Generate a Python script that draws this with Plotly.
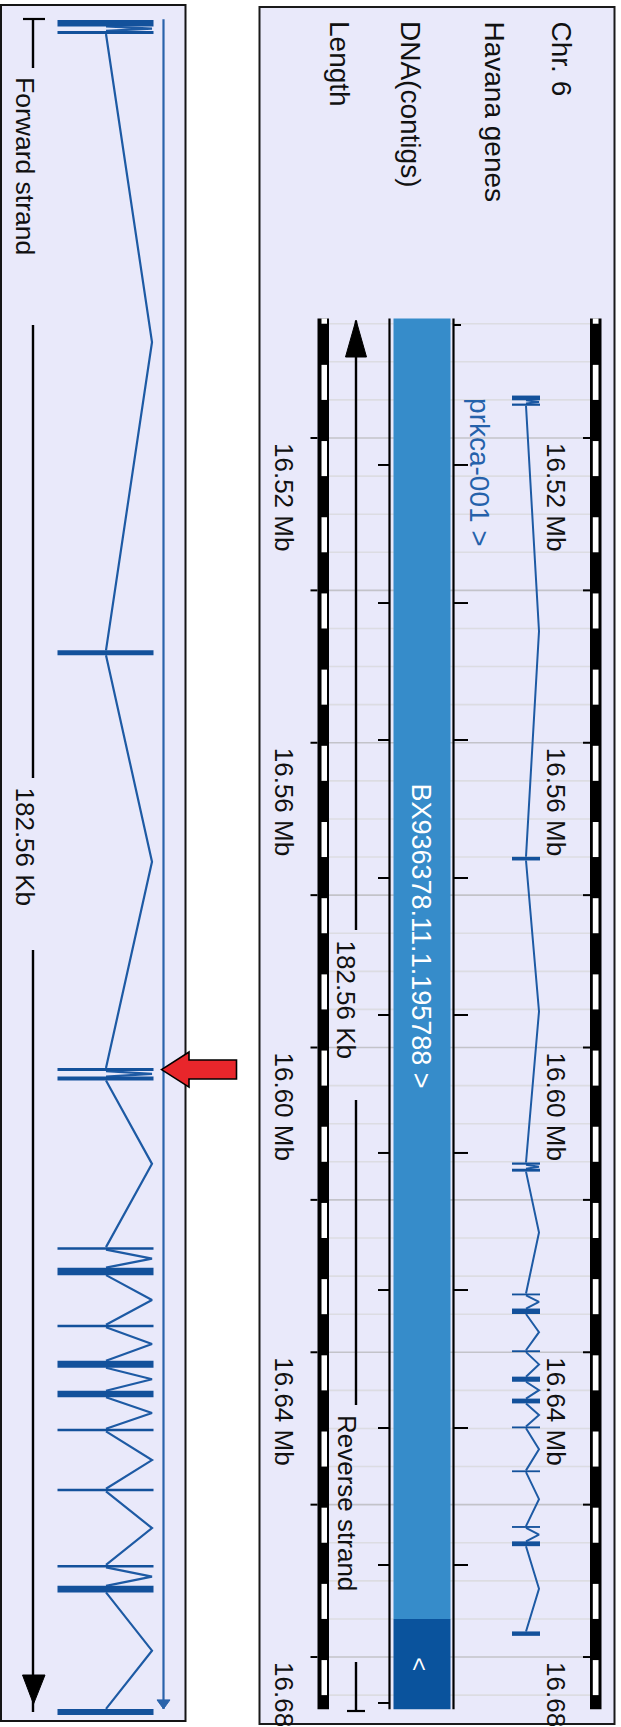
import math
import plotly.graph_objects as go

W, H = 621, 1727
FONT = "Liberation Sans, Arial, Helvetica, sans-serif"

# ---------------- data: human chromosome 6, positions in Mb ----------------
track_names = ["Chr. 6", "Havana genes", "DNA(contigs)", "Length"]

region_start_mb = 16.5043
region_length_kb = 182.56

# Havana transcript prkca-001 (forward strand), exon boundaries
transcript_name = "prkca-001 >"
exon_start_mb = [16.51443, 16.51548, 16.57497, 16.61509, 16.61591, 16.63229, 16.63426,
                 16.63974, 16.64320, 16.64608, 16.64974, 16.65550, 16.66281, 16.66482, 16.67664]
exon_end_mb = [16.51505, 16.51577, 16.57545, 16.61538, 16.61629, 16.63253, 16.63498,
               16.63998, 16.64387, 16.64671, 16.64998, 16.65574, 16.66305, 16.66545, 16.67722]

# clone contigs in view
contig_start_mb = [16.5043, 16.67501]
contig_names = ["BX936378.11.1.195788 >", "<"]
contig_tick_mb = [16.50517, 16.52354, 16.54166, 16.55964, 16.57775, 16.59573,
                  16.61384, 16.63183, 16.64994, 16.66792, 16.68603]

# ruler labels
ruler_label_mb = [16.52, 16.56, 16.60, 16.64, 16.68]
ruler_labels = ["16.52 Mb", "16.56 Mb", "16.60 Mb", "16.64 Mb", "16.68 Mb"]

length_label = "182.56 Kb"
strand_labels = ["Forward strand", "Reverse strand"]

region_end_mb = region_start_mb + region_length_kb / 1000.0

# ---------------- layout constants ----------------
BG = "#e9e9fa"
GENE = "#13519b"
GENE_LINE = "#1d5aa4"
STRAND = "#2a63ab"
CONTIG_1 = "#368cca"
CONTIG_2 = "#0a539d"
GRID_MINOR = "#dcdce2"
GRID_MAJOR = "#c3c3c9"

OVERVIEW_Y_PX = (7, 1724)       # right panel, top/bottom edge
DETAIL_Y_PX = (5, 1721)         # left panel, top/bottom edge
OVERVIEW_VIEW_MB = (16.46343, 16.68879)   # Mb at top / bottom edge of the right panel
DETAIL_VIEW_MB = (16.51318, 16.67809)     # Mb at top / bottom edge of the left panel
CONTIG_LABEL_MB = 16.58536


def px(x):
    return x / W


def py(y):
    return 1 - y / H


shapes = []
annotations = []
traces = []


def line(x0, y0, x1, y1, xref="paper", yref="paper", color="#000", width=2, layer="above"):
    shapes.append(dict(type="line", xref=xref, yref=yref, x0=x0, y0=y0, x1=x1, y1=y1,
                       line=dict(color=color, width=width), layer=layer))


def rect(x0, x1, y0, y1, xref="x", yref="y", fill="#000", lc=None, lw=0, layer="below"):
    shapes.append(dict(type="rect", xref=xref, yref=yref, x0=x0, x1=x1, y0=y0, y1=y1,
                       fillcolor=fill, line=dict(color=lc or fill, width=lw), layer=layer))


def ptext(s, x, y_px, size=26, color="#111"):
    annotations.append(dict(text=s, x=x, y=py(y_px), xref="x", yref="paper", textangle=90,
                            showarrow=False, xanchor="center", yanchor="top",
                            font=dict(family=FONT, size=size, color=color)))


def dtext(s, x, y, yref, size=26, color="#111", yanchor="top", yshift=0):
    annotations.append(dict(text=s, x=x, y=y, xref="x", yref=yref, textangle=90,
                            showarrow=False, xanchor="center", yanchor=yanchor, yshift=yshift,
                            font=dict(family=FONT, size=size, color=color)))


# ---------------- panel frames ----------------
rect(px(1), px(185.5), py(DETAIL_Y_PX[1]), py(DETAIL_Y_PX[0]), xref="paper", yref="paper",
     fill=BG, lc="#151515", lw=2)
rect(px(259.5), px(614.5), py(OVERVIEW_Y_PX[1]), py(OVERVIEW_Y_PX[0]), xref="paper", yref="paper",
     fill=BG, lc="#1a1a1a", lw=2)

# ---------------- right panel: grid lines every 5 kb ----------------
k0 = math.ceil(region_start_mb * 1000 / 5)
k1 = math.floor(region_end_mb * 1000 / 5)
for k in range(k0, k1 + 1):
    kb = k * 5
    pos = kb / 1000
    major = kb % 20 == 0
    line(329, pos, 590, pos, xref="x", yref="y", color=GRID_MAJOR if major else GRID_MINOR,
         width=1.6, layer="below")

# ---------------- right panel: scale bars ----------------
for bx0, bx1, wx0, wx1, tx0, tx1 in [(317.5, 329, 321.5, 327, 310.5, 317.5),
                                     (590, 601.5, 592.8, 598.5, 583, 590)]:
    rect(bx0, bx1, region_start_mb, region_end_mb, fill="#000")
    for k in range(math.floor(region_start_mb * 100), math.ceil(region_end_mb * 100) + 1):
        s = max(k / 100, region_start_mb)
        e = min(k / 100 + 0.005, region_end_mb)
        if e > s:
            rect(wx0, wx1, s + (0.0004 if s > region_start_mb else 0), e, fill="#ffffff")
    for k in range(math.ceil(region_start_mb * 50), math.floor(region_end_mb * 50) + 1):
        t = k / 50
        line(tx0, t, tx1, t, xref="x", yref="y", color="#000", width=2)

for t, lab in zip(ruler_label_mb, ruler_labels):
    dtext(lab, 556, t, "y", size=26, yshift=-3)
    dtext(lab, 284, t, "y", size=26, yshift=-3)

# ---------------- right panel: contigs ----------------
contig_bounds = contig_start_mb + [region_end_mb]
for i, name in enumerate(contig_names):
    rect(393.5, 450.5, contig_bounds[i], contig_bounds[i + 1],
         fill=CONTIG_1 if i == 0 else CONTIG_2)
line(389.5, region_start_mb, 389.5, region_end_mb, xref="x", yref="y", width=2.2)
line(453.5, region_start_mb, 453.5, region_end_mb, xref="x", yref="y", width=2.2)
for i, t in enumerate(contig_tick_mb):
    if i > 0:
        line(378, t, 389.5, t, xref="x", yref="y", width=2)
    if i < len(contig_tick_mb) - 1:
        line(453.5, t, 468 if i > 0 else 461, t, xref="x", yref="y", width=2)
dtext(contig_names[0], 421.5, CONTIG_LABEL_MB, "y", size=27, color="#ffffff", yanchor="middle")
dtext(contig_names[1], 420, (contig_start_mb[1] + region_end_mb) / 2, "y", size=24,
      color="#ffffff", yanchor="middle")

# ---------------- transcript drawing (both panels) ----------------
def intron_path(cx, peak):
    xs, ys = [], []
    for i in range(len(exon_start_mb) - 1):
        a, b = exon_end_mb[i], exon_start_mb[i + 1]
        xs += [cx, peak, cx, None]
        ys += [a, (a + b) / 2, b, None]
    return xs, ys


for axis, cx, peak, ex0, ex1, lw in [("y", 526, 539, 512, 540, 2.0),
                                     ("y2", 106, 152, 57.5, 153.5, 2.2)]:
    xs, ys = intron_path(cx, peak)
    traces.append(go.Scatter(x=xs, y=ys, xaxis="x", yaxis=axis, mode="lines",
                             line=dict(color=GENE_LINE, width=lw), hoverinfo="skip",
                             showlegend=False))
    for s, e in zip(exon_start_mb, exon_end_mb):
        rect(ex0, ex1, s, e, yref=axis, fill=GENE, layer="above")

dtext(transcript_name, 480, exon_start_mb[0], "y", size=28, color="#2561aa")

# strand direction line of the zoomed transcript
traces.append(go.Scatter(x=[163.5, 163.5], y=[exon_start_mb[0] - 0.00008, exon_start_mb[-1]],
                         xaxis="x", yaxis="y2", mode="lines",
                         line=dict(color=STRAND, width=2.2), hoverinfo="skip", showlegend=False))
shapes.append(dict(type="path", xref="x", yref="y2", ysizemode="pixel",
                   yanchor=exon_start_mb[-1], path="M 157,9 L 170,9 L 163.5,0 Z",
                   fillcolor=STRAND, line=dict(color=STRAND, width=1), layer="above"))

# pointer to the first exon pair of the zoomed view
exon_mid = (exon_start_mb[3] + exon_end_mb[3]) / 2
shapes.append(dict(type="path", xref="x", yref="y2", ysizemode="pixel", yanchor=exon_mid,
                   path="M 161.5,0 L 189,17.5 L 189,9.5 L 236.5,9.5 L 236.5,-9.5 "
                        "L 189,-9.5 L 189,-17.5 Z",
                   fillcolor="#e8262b", line=dict(color="#000", width=1.6), layer="above"))

# ---------------- length tracks ----------------
# left: forward strand, arrow at the bottom
line(px(23), py(19), px(45), py(19), width=2.2)
for a, b in [(19, 68), (325, 778), (950, 1712)]:
    line(px(33), py(a), px(33), py(b), width=2.4)
shapes.append(dict(type="path", xref="paper", yref="paper",
                   path=f"M {px(22.5)},{py(1675)} L {px(45)},{py(1675)} L {px(33.5)},{py(1704)} Z",
                   fillcolor="#000", line=dict(color="#000", width=1), layer="above"))
ptext(strand_labels[0], 25, 75, size=26.5)
ptext(length_label, 25, 785)

# right: reverse strand, arrow at the top
shapes.append(dict(type="path", xref="paper", yref="paper",
                   path=f"M {px(356)},{py(320)} L {px(345.5)},{py(357)} L {px(366.5)},{py(357)} Z",
                   fillcolor="#000", line=dict(color="#000", width=1), layer="above"))
for a, b in [(321, 930), (1100, 1405), (1662, 1711)]:
    line(px(356), py(a), px(356), py(b), width=2.4)
line(px(347), py(1711), px(365), py(1711), width=2.2)
ptext(length_label, 346, 938)
ptext(strand_labels[1], 347, 1413)

# ---------------- track names ----------------
for name, xc in zip(track_names, [561, 494, 410, 339]):
    ptext(name, xc, 19, size=28)

# ---------------- figure ----------------
fig = go.Figure(data=traces)
fig.update_layout(
    width=W, height=H, autosize=False,
    margin=dict(l=0, r=0, t=0, b=0, pad=0),
    paper_bgcolor="#ffffff", plot_bgcolor="rgba(0,0,0,0)",
    showlegend=False, hovermode=False,
    xaxis=dict(domain=[0, 1], range=[0, W], visible=False, fixedrange=True),
    yaxis=dict(domain=[py(OVERVIEW_Y_PX[1]), py(OVERVIEW_Y_PX[0])],
               range=[OVERVIEW_VIEW_MB[1], OVERVIEW_VIEW_MB[0]],
               visible=False, fixedrange=True, anchor="x"),
    yaxis2=dict(domain=[py(DETAIL_Y_PX[1]), py(DETAIL_Y_PX[0])],
                range=[DETAIL_VIEW_MB[1], DETAIL_VIEW_MB[0]],
                visible=False, fixedrange=True, anchor="x", overlaying="y"),
    shapes=shapes,
    annotations=annotations,
)
fig.write_html("out.html", config={"displayModeBar": False})
